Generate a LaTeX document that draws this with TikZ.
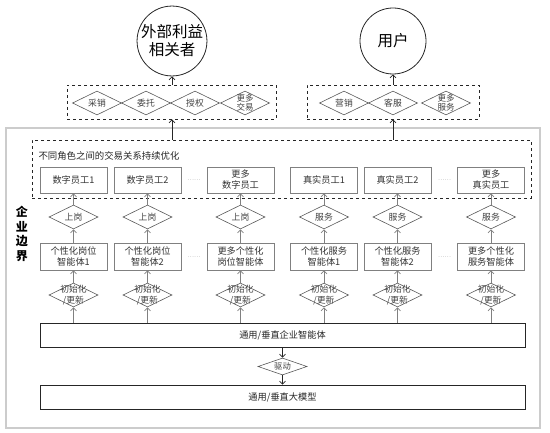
\documentclass[tikz,border=0pt]{standalone}
\usepackage{fontspec}
\setmainfont{Noto Sans CJK SC}
\usetikzlibrary{arrows.meta,shapes.geometric,shadows}
\begin{document}
\begin{tikzpicture}[x=1pt,y=-1pt,
  circ/.style={circle,draw=black!85,line width=0.8pt,inner sep=0pt,align=center,
    font=\fontsize{15.5}{18}\selectfont},
  dbox/.style={draw=black!85,dashed,line width=0.8pt,inner sep=0pt},
  dia/.style={diamond,draw=black!65,line width=0.6pt,minimum width=49pt,minimum height=24pt,inner sep=0pt},
  dtext/.style={font=\fontsize{8.8}{10}\selectfont,text=black!75,align=center},
  rbox/.style={rectangle,draw=black!50,line width=0.8pt,minimum width=67pt,minimum height=26pt,
    inner sep=0pt,align=center,font=\fontsize{9.2}{11}\selectfont,text=black!80},
  wbox/.style={rectangle,draw=black!85,line width=0.7pt,minimum width=485pt,minimum height=24pt,
    inner sep=0pt,font=\fontsize{9.2}{11}\selectfont,text=black!85,
    drop shadow={shadow xshift=1pt,shadow yshift=-1pt,fill=black!45,opacity=1},fill=white},
  garrow/.style={-{Straight Barb[length=3pt,width=6pt]},draw=black!50,line width=0.7pt},
  barrow/.style={-{Straight Barb[length=3pt,width=6pt]},draw=black!85,line width=0.7pt},
  dots/.style={font=\fontsize{6}{7}\selectfont,text=black!40}
]
\useasboundingbox (0,0) rectangle (550,433);

% enterprise boundary
\node[draw=black!20,line width=1.5pt,minimum width=534pt,minimum height=300pt,inner sep=0pt] (bound) at (273,278) {};
\node[font=\fontsize{12}{14.5}\selectfont\bfseries,align=center,text=black] (bt) at (22,234) {企\\业\\边\\界};

% circles
\node[circ,minimum size=68pt] (A) at (172,41) {外部利益\\相关者};
\node[circ,minimum size=66pt] (B) at (393,41) {用户};

% top dashed boxes
\node[dbox,minimum width=209pt,minimum height=34pt] (T1) at (171.5,102) {};
\node[dbox,minimum width=172pt,minimum height=34pt] (T2) at (393,102) {};

\node[dia,label={[dtext]center:采销}] (s1) at (97,103) {};
\node[dia,label={[dtext]center:委托}] (s2) at (146,103) {};
\node[dia,label={[dtext]center:授权}] (s3) at (195,103) {};
\node[dia,label={[dtext,font=\fontsize{8.5}{9.5}\selectfont]center:更多\\交易}] (s4) at (245,103) {};
\node[dia,label={[dtext]center:营销}] (p1) at (344,103) {};
\node[dia,label={[dtext]center:客服}] (p2) at (393,103) {};
\node[dia,label={[dtext,font=\fontsize{8.5}{9.5}\selectfont]center:更多\\服务}] (p3) at (446,103) {};

% inner dashed box
\node[dbox,minimum width=499pt,minimum height=58pt] (I) at (281.5,169) {};
\node[anchor=west,font=\fontsize{9.4}{11}\selectfont,text=black!85] (title) at (35,156) {不同角色之间的交易关系持续优化};

% arrows to top
\draw[barrow] (I.north -| A) -- (T1.south -| A);
\draw[barrow] (T1.north -| A) -- (A.south);
\draw[barrow] (I.north -| B) -- (T2.south -| B);
\draw[barrow] (T2.north -| B) -- (B.south);

% row 1 boxes
\node[rbox] (e1) at (73.5,180) {数字员工1};
\node[rbox] (e2) at (147.5,180) {数字员工2};
\node[rbox] (e3) at (240.5,180) {更多\\数字员工};
\node[rbox] (e4) at (324,180) {真实员工1};
\node[rbox] (e5) at (397.5,180) {真实员工2};
\node[rbox] (e6) at (491,180) {更多\\真实员工};
\node[dots] (dd1) at (194,180) {……};
\node[dots] (dd2) at (444.5,180) {……};

% diamond row 1
\node[dia,label={[dtext]center:上岗}] (u1) at (73.5,217) {};
\node[dia,label={[dtext]center:上岗}] (u2) at (147.5,217) {};
\node[dia,label={[dtext]center:上岗}] (u3) at (240.5,217) {};
\node[dia,label={[dtext]center:服务}] (u4) at (324,217) {};
\node[dia,label={[dtext]center:服务}] (u5) at (397.5,217) {};
\node[dia,label={[dtext]center:服务}] (u6) at (491,217) {};

% row 2 boxes
\node[rbox,minimum height=27pt] (g1) at (73.5,256.5) {个性化岗位\\智能体1};
\node[rbox,minimum height=27pt] (g2) at (147.5,256.5) {个性化岗位\\智能体2};
\node[rbox,minimum height=27pt] (g3) at (240.5,256.5) {更多个性化\\岗位智能体};
\node[rbox,minimum height=27pt] (g4) at (324,256.5) {个性化服务\\智能体1};
\node[rbox,minimum height=27pt] (g5) at (397.5,256.5) {个性化服务\\智能体2};
\node[rbox,minimum height=27pt] (g6) at (491,256.5) {更多个性化\\服务智能体};
\node[dots] (dd3) at (194,257) {……};
\node[dots] (dd4) at (444.5,257) {……};

% diamond row 2
\foreach \i/\x in {1/73.5,2/147.5,3/240.5,4/324,5/397.5,6/491}{
  \node[dia,label={[dtext,font=\fontsize{8.8}{10.5}\selectfont]center:初始化\\/更新}] (v\i) at (\x,295) {};
}

% bottom boxes
\node[wbox] (ent) at (282.5,335) {通用/垂直企业智能体};
\node[dia,minimum height=17pt,label={[dtext,font=\fontsize{8.3}{10}\selectfont]center:驱动}] (dr) at (282.5,366.5) {};
\node[wbox] (mdl) at (282.5,397) {通用/垂直大模型};

% arrows in rows
\foreach \i in {1,...,6}{
  \draw[garrow] (u\i.north) -- (e\i.south);
  \draw[garrow] (g\i.north) -- (u\i.south);
  \draw[garrow] (v\i.north) -- (g\i.south);
  \draw[garrow] (ent.north -| v\i) -- (v\i.south);
}
\draw[barrow] (ent.south) -- (dr.north);
\draw[barrow] (dr.south) -- (mdl.north);
\end{tikzpicture}
\end{document}
